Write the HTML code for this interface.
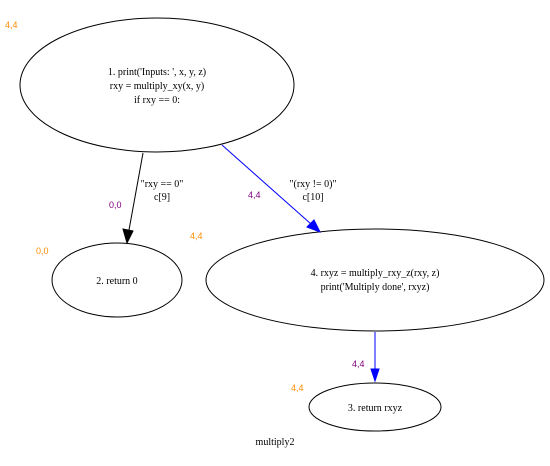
<!DOCTYPE html>
<html><head><style>body{margin:0;background:#fff}</style></head><body>
<svg width="550" height="461" viewBox="0 0 550 461" xmlns="http://www.w3.org/2000/svg" font-family="Liberation Serif, serif" font-size="10">
<rect width="550" height="461" fill="#fff"/>
<ellipse cx="157" cy="85" rx="137" ry="67" fill="none" stroke="#000"/>
<text x="157" y="75" text-anchor="middle">1. print('Inputs: ', x, y, z)</text>
<text x="157" y="89" text-anchor="middle">rxy = multiply_xy(x, y)</text>
<text x="157" y="103" text-anchor="middle">if rxy == 0:</text>
<text x="5" y="28" fill="#ff8c00" font-family="Liberation Sans, sans-serif" font-size="9">4,4</text>
<ellipse cx="117" cy="280" rx="65" ry="37" fill="none" stroke="#000"/>
<text x="117" y="284" text-anchor="middle">2. return 0</text>
<text x="36" y="254" fill="#ff8c00" font-family="Liberation Sans, sans-serif" font-size="9">0,0</text>
<ellipse cx="375" cy="280" rx="169" ry="51" fill="none" stroke="#000"/>
<text x="375" y="276" text-anchor="middle">4. rxyz = multiply_rxy_z(rxy, z)</text>
<text x="375" y="290" text-anchor="middle">print('Multiply done', rxyz)</text>
<text x="190" y="239" fill="#ff8c00" font-family="Liberation Sans, sans-serif" font-size="9">4,4</text>
<ellipse cx="375" cy="407" rx="66" ry="24" fill="none" stroke="#000"/>
<text x="375" y="411" text-anchor="middle">3. return rxyz</text>
<text x="291" y="391" fill="#ff8c00" font-family="Liberation Sans, sans-serif" font-size="9">4,4</text>
<line x1="143" y1="153" x2="129" y2="230" stroke="#000"/>
<polygon points="123,229 133,231 127,243" fill="#000" stroke="#000"/>
<text x="162" y="187" text-anchor="middle">"rxy == 0"</text>
<text x="162" y="200" text-anchor="middle">c[9]</text>
<text x="109" y="208" fill="#800080" font-family="Liberation Sans, sans-serif" font-size="9">0,0</text>
<line x1="222" y1="145" x2="311" y2="224" stroke="#00f"/>
<polygon points="307,227 314,220 320,232" fill="#00f" stroke="#00f"/>
<text x="313" y="187" text-anchor="middle">"(rxy != 0)"</text>
<text x="313" y="200" text-anchor="middle">c[10]</text>
<text x="248" y="198" fill="#800080" font-family="Liberation Sans, sans-serif" font-size="9">4,4</text>
<line x1="375" y1="332" x2="375" y2="370" stroke="#00f"/>
<polygon points="371,369 379,369 375,381" fill="#00f" stroke="#00f"/>
<text x="352" y="367" fill="#800080" font-family="Liberation Sans, sans-serif" font-size="9">4,4</text>
<text x="275" y="445" text-anchor="middle">multiply2</text>
</svg>
</body></html>
